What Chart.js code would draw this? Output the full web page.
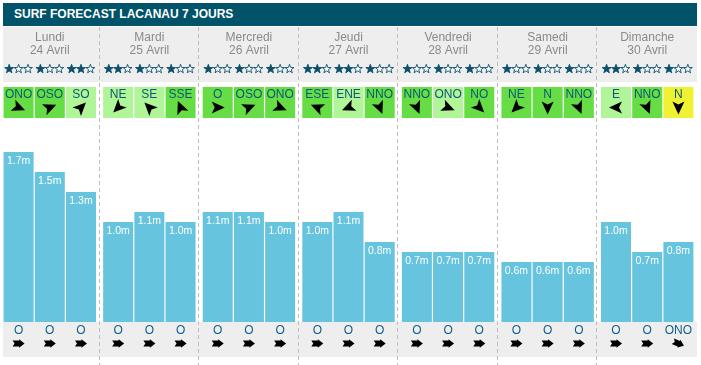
<!DOCTYPE html>
<html>
<head>
<meta charset="utf-8">
<script src="https://cdn.jsdelivr.net/npm/chart.js@4/dist/chart.umd.min.js"></script>
<style>
	html, body {margin:0; padding:0; background:#fff;}
	body {width:701px; height:365px; position:relative; overflow:hidden; font-family:"Liberation Sans", Arial, sans-serif;}
	.titre {position:absolute; left:3px; top:3px; width:694px; height:23px; background:#005368; color:#fff;
		font-weight:bold; font-size:12px; line-height:23px; padding-left:11px; box-sizing:border-box;}
	.graph {position:absolute; left:0; top:27px; width:701px; height:338px;}
</style>
</head>
<body>
<div class="titre">SURF FORECAST LACANAU 7 JOURS</div>
<div class="graph"><canvas id="surf"></canvas></div>
<script>
"use strict";

// jours et dates
var days = ['Lundi', 'Mardi', 'Mercredi', 'Jeudi', 'Vendredi', 'Samedi', 'Dimanche'];
var dates = ['24 Avril', '25 Avril', '26 Avril', '27 Avril', '28 Avril', '29 Avril', '30 Avril'];
var slots = ['Matin', 'Midi', 'Soir'];

// hauteur des vagues (m)
var heightsMatin = [1.7, 1.0, 1.1, 1.0, 0.7, 0.6, 1.0];
var heightsMidi  = [1.5, 1.1, 1.1, 1.1, 0.7, 0.6, 0.7];
var heightsSoir  = [1.3, 1.0, 1.0, 0.8, 0.7, 0.6, 0.8];

// etoiles (sur 3)
var starsMatin = [1, 2, 1, 2, 1, 1, 2];
var starsMidi  = [1, 1, 1, 2, 1, 1, 1];
var starsSoir  = [2, 1, 1, 1, 1, 1, 1];

// vent : direction et niveau (2 fort vert, 1 vert clair, 0 jaune)
var windMatin = ['ONO', 'NE', 'O', 'ESE', 'NNO', 'NE', 'E'];
var windMidi  = ['OSO', 'SE', 'OSO', 'ENE', 'ONO', 'N', 'NNO'];
var windSoir  = ['SO', 'SSE', 'ONO', 'NNO', 'NO', 'NNO', 'N'];
var windLvlMatin = [2, 1, 2, 2, 2, 2, 1];
var windLvlMidi  = [2, 1, 2, 1, 1, 2, 2];
var windLvlSoir  = [1, 2, 2, 2, 2, 2, 0];

// houle
var swellMatin = ['O', 'O', 'O', 'O', 'O', 'O', 'O'];
var swellMidi  = ['O', 'O', 'O', 'O', 'O', 'O', 'O'];
var swellSoir  = ['O', 'O', 'O', 'O', 'O', 'O', 'ONO'];

var stars = [starsMatin, starsMidi, starsSoir];
var winds = [windMatin, windMidi, windSoir];
var windLvls = [windLvlMatin, windLvlMidi, windLvlSoir];
var swells = [swellMatin, swellMidi, swellSoir];

var dirDeg = {N:0, NNE:22.5, NE:45, ENE:67.5, E:90, ESE:112.5, SE:135, SSE:157.5, S:180,
	SSO:202.5, SO:225, OSO:247.5, O:270, ONO:292.5, NO:315, NNO:337.5};
var windColors = ['#eef232', '#b0f598', '#66dd44'];
var FONT = '"Liberation Sans", Arial, sans-serif';

function drawStar(ctx, cx, cy, filled) {
	ctx.beginPath();
	for (var k = 0; k < 10; k++) {
		var r = k % 2 === 0 ? 4.7 : 1.9;
		var a = -Math.PI / 2 + k * Math.PI / 5;
		ctx.lineTo(cx + r * Math.cos(a), cy + r * Math.sin(a));
	}
	ctx.closePath();
	ctx.fillStyle = filled ? '#0b4f6c' : '#fff';
	ctx.fill();
	ctx.lineWidth = 0.9;
	ctx.strokeStyle = '#0b4f6c';
	ctx.stroke();
}

// fleche vent : pointe vers le haut puis rotation
function drawWindArrow(ctx, cx, cy, dir) {
	ctx.save();
	ctx.translate(cx, cy);
	ctx.rotate((dirDeg[dir] + 180) * Math.PI / 180);
	ctx.beginPath();
	ctx.moveTo(0, -7);
	ctx.lineTo(6, 6);
	ctx.lineTo(0, 3);
	ctx.lineTo(-6, 6);
	ctx.closePath();
	ctx.fillStyle = '#000';
	ctx.fill();
	ctx.restore();
}

// fleche houle : pointe vers la droite
function drawSwellArrow(ctx, cx, cy, dir) {
	ctx.save();
	ctx.translate(cx, cy);
	ctx.rotate((dirDeg[dir] + 180 - 90) * Math.PI / 180);
	ctx.beginPath();
	ctx.moveTo(-6, -3);
	ctx.lineTo(0.5, -3);
	ctx.lineTo(0.5, -4.2);
	ctx.lineTo(6, 0);
	ctx.lineTo(0.5, 4.2);
	ctx.lineTo(0.5, 3);
	ctx.lineTo(-6, 3);
	ctx.lineTo(-4, 0);
	ctx.closePath();
	ctx.fillStyle = '#000';
	ctx.fill();
	ctx.restore();
}

var surfPlugin = {
	id: 'surfPlugin',
	beforeDatasetsDraw: function(chart) {
		var ctx = chart.ctx, area = chart.chartArea, x = chart.scales.x;
		ctx.save();
		// fonds gris
		ctx.fillStyle = '#eeeeee';
		ctx.fillRect(area.left + 3, 0, area.right - area.left - 3, 55);
		ctx.fillRect(area.left + 3, area.bottom, area.right - area.left - 3, 35);
		// separateurs
		ctx.strokeStyle = '#bdbdbd';
		ctx.lineWidth = 1;
		ctx.setLineDash([4, 3]);
		for (var i = 0; i < days.length - 1; i++) {
			var bx = Math.round((x.getPixelForValue(i) + x.getPixelForValue(i + 1)) / 2) - 0.5;
			ctx.beginPath();
			ctx.moveTo(bx, 0);
			ctx.lineTo(bx, chart.height);
			ctx.stroke();
		}
		ctx.setLineDash([]);
		// jours
		ctx.textAlign = 'center';
		ctx.textBaseline = 'middle';
		ctx.fillStyle = '#8a8a8a';
		ctx.font = '12px ' + FONT;
		days.forEach(function(d, i) {
			var cx = x.getPixelForValue(i);
			ctx.fillText(d, cx, 11);
			ctx.fillText(dates[i], cx, 23.5);
		});
		ctx.restore();
	},
	afterDatasetsDraw: function(chart) {
		var ctx = chart.ctx;
		ctx.save();
		ctx.textAlign = 'center';
		ctx.textBaseline = 'middle';
		chart.data.datasets.forEach(function(ds, d) {
			chart.getDatasetMeta(d).data.forEach(function(bar, i) {
				var cx = bar.x, w = bar.width;
				// valeur
				ctx.fillStyle = '#fff';
				ctx.font = '10.5px ' + FONT;
				ctx.fillText(ds.data[i].toFixed(1) + 'm', cx, bar.y + 9.5);
				// etoiles
				for (var s = 0; s < 3; s++) {
					drawStar(ctx, cx - 9.4 + s * 9.4, 42, s < stars[d][i]);
				}
				// vent
				ctx.fillStyle = windColors[windLvls[d][i]];
				ctx.fillRect(cx - w / 2, 60, w, 31);
				ctx.fillStyle = '#0b5878';
				ctx.font = '12px ' + FONT;
				ctx.fillText(winds[d][i], cx, 67.5);
				drawWindArrow(ctx, cx, 80.5, winds[d][i]);
				// houle
				ctx.fillStyle = '#0f5f8a';
				ctx.fillText(swells[d][i], cx, 303.5);
				drawSwellArrow(ctx, cx, 316.5, swells[d][i]);
			});
		});
		ctx.restore();
	}
};

new Chart(document.getElementById('surf').getContext('2d'), {
	type: 'bar',
	data: {
		labels: days,
		datasets: [
			{label: slots[0], data: heightsMatin},
			{label: slots[1], data: heightsMidi},
			{label: slots[2], data: heightsSoir}
		].map(function(ds) {
			ds.backgroundColor = '#66c4de';
			ds.borderWidth = 0;
			ds.categoryPercentage = 0.94;
			ds.barPercentage = 0.962;
			return ds;
		})
	},
	options: {
		responsive: true,
		maintainAspectRatio: false,
		animation: false,
		layout: {padding: {top: 95, bottom: 43, left: 0, right: 4}},
		plugins: {
			legend: {display: false},
			tooltip: {enabled: false},
			title: {display: false}
		},
		scales: {
			x: {display: false},
			y: {display: false, min: 0, max: 2}
		}
	},
	plugins: [surfPlugin]
});
</script>
</body>
</html>
